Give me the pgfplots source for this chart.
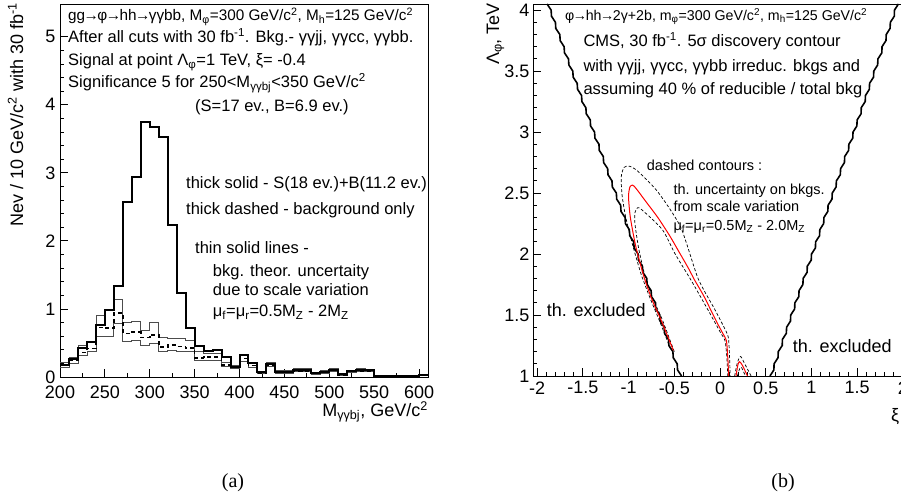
\documentclass[border=0pt]{standalone}
\usepackage{fontspec}
\setmainfont{Liberation Sans}
\newfontfamily\capfont{Liberation Serif}
\usepackage{pgfplots}
\pgfplotsset{compat=1.18}
\usepackage{pgfplotstable}
\newcommand{\su}[1]{\textsuperscript{#1}}
\newcommand{\lo}[1]{\textsubscript{#1}}
\newcommand{\ra}{\kern-0.1em→\kern-0.1em}

\pgfplotstableread{
x tot bkg up lo
200 0.18 0.17 0.21 0.14
210 0.26 0.24 0.29 0.20
220 0.43 0.36 0.46 0.32
230 0.51 0.42 0.53 0.37
240 0.77 0.73 0.90 0.60
250 0.98 0.72 0.98 0.60
260 1.34 0.94 1.14 0.79
270 2.57 0.64 0.80 0.53
280 2.94 0.66 0.82 0.54
290 3.74 0.58 0.69 0.47
300 3.67 0.62 0.80 0.50
310 3.53 0.44 0.58 0.37
320 2.23 0.47 0.57 0.39
330 1.23 0.45 0.56 0.37
340 0.72 0.43 0.54 0.37
350 0.46 0.28 0.37 0.25
360 0.38 0.29 0.34 0.24
370 0.40 0.29 0.35 0.24
380 0.29 0.18 0.22 0.16
390 0.15 0.14 0.17 0.12
400 0.32 0.27 0.33 0.23
410 0.20 0.17 0.21 0.14
420 0.07 0.06 0.08 0.05
430 0.19 0.17 0.21 0.15
440 0.08 0.07 0.09 0.06
450 0.08 0.07 0.09 0.06
460 0.11 0.09 0.12 0.08
470 0.11 0.09 0.12 0.08
480 0.06 0.05 0.06 0.04
490 0.08 0.07 0.09 0.06
500 0.11 0.10 0.12 0.08
510 0.04 0.03 0.04 0.03
520 0.09 0.08 0.10 0.07
530 0.11 0.09 0.12 0.08
540 0.10 0.09 0.11 0.08
550 0.01 0.01 0.01 0.01
560 0.01 0.01 0.01 0.01
570 0.01 0.01 0.01 0.01
580 0.02 0.02 0.02 0.01
590 0.02 0.02 0.02 0.01
600 0.03 0.02 0.03 0.02
610 0.03 0.02 0.03 0.02
}\histdata

\begin{document}
\begin{tikzpicture}
\useasboundingbox (0pt,0pt) rectangle (901pt,499pt);
% ---------------- panel (a)
\begin{axis}[
  at={(60pt,122pt)}, anchor=south west, scale only axis,
  width=368pt, height=373pt,
  xmin=200, xmax=610, ymin=0, ymax=5.48,
  xtick={200,250,...,600}, minor x tick num=1,
  ytick={0,1,...,5}, minor y tick num=4,
  tick align=inside, tick pos=left,
  major tick length=8pt, minor tick length=4pt,
  every tick/.style={black, line width=0.8pt},
  axis line style={line width=0.9pt},
  /pgf/number format/assume math mode=true,
  tick label style={font=\fontsize{18}{18}\selectfont},
  xticklabel style={yshift=-5pt},
  yticklabel style={xshift=-1pt},
  clip=true,
]
\addplot[const plot, gray!60!black, line width=0.8pt] table[x=x,y=up]{\histdata};
\addplot[const plot, gray!60!black, line width=0.8pt] table[x=x,y=lo]{\histdata};
\addplot[const plot, black, line width=1.6pt, dash pattern=on 4pt off 3pt] table[x=x,y=bkg]{\histdata};
\addplot[const plot, black, line width=2pt] table[x=x,y=tot]{\histdata};
\end{axis}
% ---------------- panel (b)
\begin{axis}[
  at={(533pt,123pt)}, anchor=south west, scale only axis,
  width=374pt, height=372pt,
  xmin=-2.044, xmax=2.044, ymin=1, ymax=4.05,
  xtick={-2,-1.5,-1,-0.5,0,0.5,1,1.5,2},
  xticklabels={-2,-1.5,-1,-0.5,0,0.5,1,1.5,2},
  ytick={1,1.5,2,2.5,3,3.5,4},
  yticklabels={1,1.5,2,2.5,3,3.5,4},
  minor x tick num=4, minor y tick num=4,
  tick align=inside, tick pos=left,
  major tick length=8pt, minor tick length=4pt,
  every tick/.style={black, line width=0.8pt},
  axis line style={line width=0.9pt},
  tick label style={font=\fontsize{18}{18}\selectfont},
  xticklabel style={yshift=-2pt},
  yticklabel style={xshift=0pt},
]
% outer V boundary
\addplot[black, line width=1.6pt] coordinates {
(-0.42,1.00) (-0.464,1.05) (-0.468,1.10) (-0.511,1.15) (-0.515,1.20) (-0.559,1.25) (-0.563,1.30) (-0.606,1.35) (-0.610,1.40) (-0.654,1.45) (-0.658,1.50) (-0.702,1.55) (-0.705,1.60) (-0.749,1.65) (-0.753,1.70) (-0.797,1.75) (-0.800,1.80) (-0.844,1.85) (-0.848,1.90) (-0.892,1.95) (-0.895,2.00) (-0.939,2.05) (-0.943,2.10) (-0.987,2.15) (-0.991,2.20) (-1.034,2.25) (-1.038,2.30) (-1.082,2.35) (-1.086,2.40) (-1.129,2.45) (-1.133,2.50) (-1.177,2.55) (-1.181,2.60) (-1.224,2.65) (-1.228,2.70) (-1.272,2.75) (-1.276,2.80) (-1.320,2.85) (-1.323,2.90) (-1.367,2.95) (-1.371,3.00) (-1.415,3.05) (-1.418,3.10) (-1.462,3.15) (-1.466,3.20) (-1.510,3.25) (-1.513,3.30) (-1.557,3.35) (-1.561,3.40) (-1.605,3.45) (-1.609,3.50) (-1.652,3.55) (-1.656,3.60) (-1.700,3.65) (-1.704,3.70) (-1.747,3.75) (-1.751,3.80) (-1.795,3.85) (-1.799,3.90) (-1.842,3.95) (-1.846,4.00) (-1.89,4.05)
};
\addplot[black, line width=1.6pt] coordinates {
(0.546,1.00) (0.589,1.05) (0.591,1.10) (0.634,1.15) (0.637,1.20) (0.680,1.25) (0.682,1.30) (0.725,1.35) (0.728,1.40) (0.770,1.45) (0.773,1.50) (0.816,1.55) (0.818,1.60) (0.861,1.65) (0.864,1.70) (0.906,1.75) (0.909,1.80) (0.952,1.85) (0.954,1.90) (0.997,1.95) (1.000,2.00) (1.043,2.05) (1.045,2.10) (1.088,2.15) (1.091,2.20) (1.133,2.25) (1.136,2.30) (1.179,2.35) (1.181,2.40) (1.224,2.45) (1.227,2.50) (1.269,2.55) (1.272,2.60) (1.315,2.65) (1.318,2.70) (1.360,2.75) (1.363,2.80) (1.406,2.85) (1.408,2.90) (1.451,2.95) (1.454,3.00) (1.496,3.05) (1.499,3.10) (1.542,3.15) (1.544,3.20) (1.587,3.25) (1.590,3.30) (1.632,3.35) (1.635,3.40) (1.678,3.45) (1.681,3.50) (1.723,3.55) (1.726,3.60) (1.769,3.65) (1.771,3.70) (1.814,3.75) (1.817,3.80) (1.859,3.85) (1.862,3.90) (1.905,3.95) (1.907,4.00) (1.950,4.05)
};
% outer dashed contour
\addplot[black, line width=0.7pt, dash pattern=on 3pt off 2pt, smooth, tension=0.4] coordinates {
(-0.54,1.22) (-0.66,1.45) (-0.76,1.63) (-0.86,1.83) (-0.95,2.06) (-1.03,2.30) (-1.07,2.48) (-1.08,2.63) (-1.05,2.71) (-0.99,2.72) (-0.90,2.68) (-0.68,2.51) (-0.43,2.22) (-0.24,1.80) (-0.06,1.55) (0.03,1.42) (0.09,1.32) (0.105,1.15) (0.11,1.0)
};
% inner dashed contour
\addplot[black, line width=0.7pt, dash pattern=on 3pt off 2pt, smooth, tension=0.4] coordinates {
(-0.50,1.20) (-0.63,1.46) (-0.73,1.63) (-0.82,1.82) (-0.89,2.05) (-0.93,2.25) (-0.93,2.34) (-0.90,2.38) (-0.85,2.36) (-0.63,2.20) (-0.49,2.00) (-0.32,1.79) (-0.13,1.54) (0.01,1.35) (0.055,1.29) (0.075,1.15) (0.085,1.0)
};
% red 5 sigma contour
\addplot[red, line width=1pt, smooth, tension=0.4] coordinates {
(-0.51,1.21) (-0.645,1.46) (-0.74,1.62) (-0.83,1.81) (-0.92,2.06) (-0.98,2.30) (-1.00,2.47) (-0.985,2.55) (-0.955,2.565) (-0.92,2.54) (-0.80,2.42) (-0.68,2.30) (-0.55,2.15) (-0.45,2.02) (-0.35,1.89) (-0.28,1.79) (-0.18,1.66) (-0.10,1.54) (-0.02,1.42) (0.03,1.35) (0.07,1.29) (0.085,1.15) (0.095,1.0)
};
% small island
\addplot[black, line width=0.7pt, dash pattern=on 3pt off 2pt, smooth] coordinates {(0.16,1.0) (0.19,1.11) (0.225,1.16) (0.27,1.10) (0.34,1.0)};
\addplot[black, line width=0.7pt, dash pattern=on 3pt off 2pt, smooth] coordinates {(0.19,1.0) (0.215,1.06) (0.235,1.07) (0.26,1.03) (0.28,1.0)};
\addplot[red, line width=1pt, smooth] coordinates {(0.175,1.0) (0.195,1.09) (0.215,1.117) (0.25,1.08) (0.30,1.0)};
\end{axis}
% ---------------- texts panel (a)
\begin{scope}[every node/.style={inner sep=0pt}]
\node[rotate=90, anchor=base east, font=\fontsize{18}{18}\selectfont] at (23pt,496pt) {Nev / 10 GeV/c\su{2} with 30 fb\su{-1}};
\node[anchor=base east, font=\fontsize{18}{18}\selectfont] at (428pt,82.5pt) {M\lo{γγbj}, GeV/c\su{2}};
\node[anchor=base west, font=\fontsize{15.3}{15.3}\selectfont] at (68pt,478pt) {gg\ra φ\ra hh\ra γγbb, M\lo{φ}=300 GeV/c\su{2}, M\lo{h}=125 GeV/c\su{2}};
\begin{scope}[every node/.append style={anchor=base west, font=\fontsize{16.5}{16.5}\selectfont}]
\node at (68pt,456pt) {After all cuts with 30 fb\su{-1}. Bkg.- γγjj, γγcc, γγbb.};
\node at (68pt,433pt) {Signal at point Λ\lo{φ}=1 TeV, ξ= -0.4};
\node at (68pt,411pt) {Significance 5 for 250<M\lo{γγbj}<350 GeV/c\su{2}};
\node at (195pt,387.3pt) {(S=17 ev., B=6.9 ev.)};
\node at (186pt,310.7pt) {thick solid - S(18 ev.)+B(11.2 ev.)};
\node at (186pt,285pt) {thick dashed - background only};
\node at (195pt,246pt) {thin solid lines -};
\node at (212.7pt,222.3pt) {bkg. theor. uncertaity};
\node at (212.7pt,203.3pt) {due to scale variation};
\node at (212.7pt,182.3pt) {μ\lo{f}=μ\lo{r}=0.5M\lo{Z} - 2M\lo{Z}};
\end{scope}
% ---------------- texts panel (b)
\node[rotate=90, anchor=base east, font=\fontsize{18}{18}\selectfont] at (499pt,496pt) {Λ\lo{φ}, TeV};
\node[anchor=base west, font=\fontsize{18}{18}\selectfont] at (891pt,78pt) {ξ};
\node[anchor=base west, font=\fontsize{14.2}{14.2}\selectfont] at (565pt,478.3pt) {φ\ra hh\ra 2γ+2b, m\lo{φ}=300 GeV/c\su{2}, m\lo{h}=125 GeV/c\su{2}};
\begin{scope}[every node/.append style={anchor=base west, font=\fontsize{16.5}{16.5}\selectfont}]
\node at (583.3pt,452.3pt) {CMS, 30 fb\su{-1}. 5σ discovery contour};
\node at (583.3pt,427.3pt) {with γγjj, γγcc, γγbb irreduc. bkgs and};
\node at (583.3pt,404pt) {assuming 40 \% of reducible / total bkg};
\end{scope}
\begin{scope}[every node/.append style={anchor=base west, font=\fontsize{14.5}{14.5}\selectfont}]
\node at (646.7pt,329pt) {dashed contours :};
\node at (673.3pt,305pt) {th. uncertainty on bkgs.};
\node at (673.3pt,287.3pt) {from scale variation};
\node at (673.3pt,269pt) {μ\lo{f}=μ\lo{r}=0.5M\lo{Z} - 2.0M\lo{Z}};
\end{scope}
\node[anchor=base west, font=\fontsize{18}{18}\selectfont] at (546.7pt,182.3pt) {th. excluded};
\node[anchor=base west, font=\fontsize{18}{18}\selectfont] at (792.7pt,146.3pt) {th. excluded};
% captions
\node[anchor=base, font=\capfont\fontsize{20}{20}\selectfont] at (233pt,12pt) {(a)};
\node[anchor=base, font=\capfont\fontsize{20}{20}\selectfont] at (783pt,12pt) {(b)};
\end{scope}
\end{tikzpicture}
\end{document}
